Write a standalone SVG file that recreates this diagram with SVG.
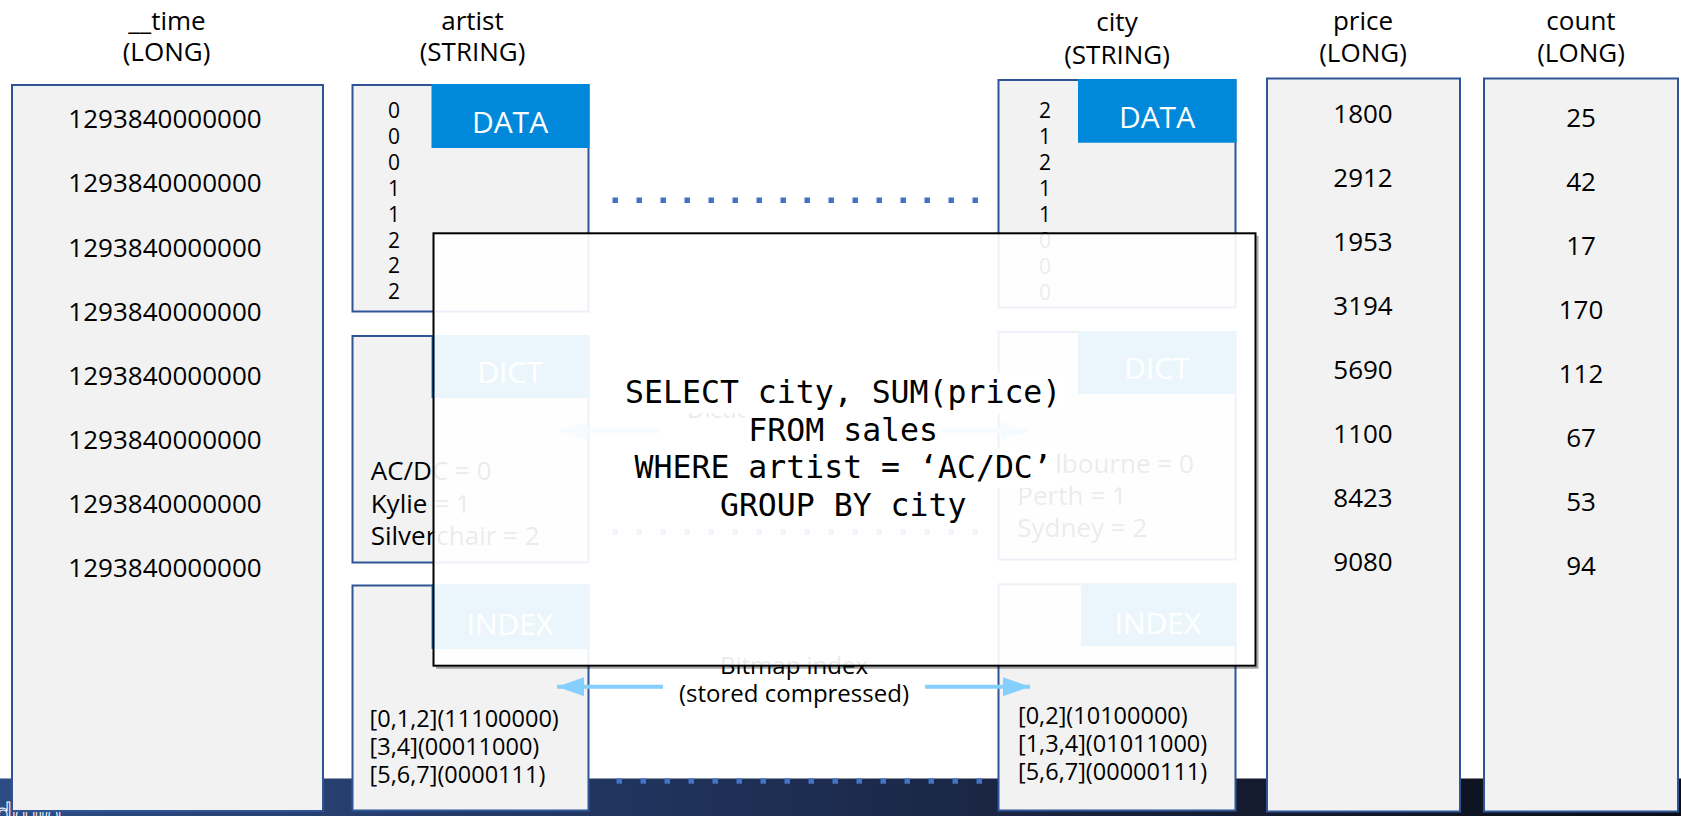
<svg xmlns="http://www.w3.org/2000/svg" width="1681" height="816" viewBox="0 0 1681 816">
  <defs>
    <linearGradient id="band" x1="0" y1="0" x2="1" y2="0">
      <stop offset="0" stop-color="#2C4C84"/>
      <stop offset="0.45" stop-color="#1E2F55"/>
      <stop offset="0.75" stop-color="#141B2E"/>
      <stop offset="1" stop-color="#0B0E17"/>
    </linearGradient>
    <marker id="ah" viewBox="0 0 27 19" refX="27" refY="9.5" markerWidth="27" markerHeight="19" markerUnits="userSpaceOnUse" orient="auto">
      <path d="M0,0 L27,9.5 L0,19 Z" fill="#85CFFF"/>
    </marker>
  </defs>
  <style>
    .box { fill: #F2F2F2; stroke: #2F5597; stroke-width: 2; }
    .hdr { fill: #0089DA; }
    .t { font-family: "Open Sans", "Noto Sans", "DejaVu Sans", sans-serif; fill: #000; }
    .head { font-size: 26px; text-anchor: middle; }
    .val { font-size: 26px; text-anchor: middle; }
    .lab { font-size: 30px; fill: #FFFFFF; text-anchor: middle; }
    .dig { font-size: 21px; text-anchor: middle; }
    .dict { font-size: 26px; }
    .idx { font-size: 23.5px; }
    .note { font-size: 24px; }
    .dots { stroke: #4472C4; stroke-width: 5.5; stroke-dasharray: 5.5 18.5; fill: none; }
    .arr { stroke: #85CFFF; stroke-width: 4; fill: none; marker-end: url(#ah); }
    .sql { font-family: "DejaVu Sans Mono", "Liberation Mono", monospace; font-size: 31.5px; text-anchor: middle; fill: #000; }
  </style>

  <!-- bottom band -->
  <rect x="0" y="778.5" width="1681" height="37.5" fill="url(#band)"/>
  <text x="-5" y="824" font-family="Liberation Sans, sans-serif" font-size="30" fill="none" stroke="#FFFFFF" stroke-width="1">druid</text>

  <!-- headers -->
  <g id="headers" class="t head">
    <text x="167" y="29.5">__time</text>
    <text x="166.5" y="61">(LONG)</text>
    <text x="472.5" y="29.5">artist</text>
    <text x="472.5" y="61">(STRING)</text>
    <text x="1117" y="31">city</text>
    <text x="1117" y="63.5">(STRING)</text>
    <text x="1363" y="30">price</text>
    <text x="1363" y="62">(LONG)</text>
    <text x="1581" y="30">count</text>
    <text x="1581" y="62">(LONG)</text>
  </g>

  <!-- __time column -->
  <g id="time-col">
    <rect class="box" x="12" y="85" width="311" height="726"/>
    <g class="t val">
      <text x="165" y="128.3">1293840000000</text>
      <text x="165" y="192.4">1293840000000</text>
      <text x="165" y="256.5">1293840000000</text>
      <text x="165" y="320.6">1293840000000</text>
      <text x="165" y="384.7">1293840000000</text>
      <text x="165" y="448.8">1293840000000</text>
      <text x="165" y="512.9">1293840000000</text>
      <text x="165" y="577">1293840000000</text>
    </g>
  </g>

  <!-- artist DATA -->
  <g id="artist-data">
    <rect class="box" x="352.5" y="85" width="236" height="226.5"/>
    <rect class="hdr" x="431.5" y="84" width="158" height="64"/>
    <text class="t lab" x="510" y="133">DATA</text>
    <g class="t dig">
      <text x="394" y="118">0</text>
      <text x="394" y="143.9">0</text>
      <text x="394" y="169.8">0</text>
      <text x="394" y="195.7">1</text>
      <text x="394" y="221.6">1</text>
      <text x="394" y="247.5">2</text>
      <text x="394" y="273.4">2</text>
      <text x="394" y="299.3">2</text>
    </g>
  </g>

  <!-- artist DICT -->
  <g id="artist-dict">
    <rect class="box" x="352.5" y="336" width="236" height="226.5"/>
    <rect class="hdr" x="431.5" y="335" width="158" height="63"/>
    <text class="t lab" x="510" y="383.3">DICT</text>
    <g class="t dict">
      <text x="370.7" y="480">AC/DC = 0</text>
      <text x="370.7" y="512.5">Kylie = 1</text>
      <text x="370.7" y="545">Silverchair = 2</text>
    </g>
  </g>

  <!-- artist INDEX -->
  <g id="artist-index">
    <rect class="box" x="352.5" y="585.5" width="236" height="225"/>
    <rect class="hdr" x="431.5" y="584.5" width="158" height="64.5"/>
    <text class="t lab" x="510" y="635">INDEX</text>
    <g class="t idx">
      <text x="369.6" y="726.7">[0,1,2](11100000)</text>
      <text x="369.6" y="755">[3,4](00011000)</text>
      <text x="369.6" y="782.7">[5,6,7](0000111)</text>
    </g>
  </g>

  <!-- city DATA -->
  <g id="city-data">
    <rect class="box" x="998.5" y="80" width="237" height="227.5"/>
    <rect class="hdr" x="1078" y="79" width="158.5" height="63.7"/>
    <text class="t lab" x="1157" y="128.3">DATA</text>
    <g class="t dig">
      <text x="1045" y="118.3">2</text>
      <text x="1045" y="144.2">1</text>
      <text x="1045" y="170.1">2</text>
      <text x="1045" y="196">1</text>
      <text x="1045" y="221.9">1</text>
      <text x="1045" y="247.8">0</text>
      <text x="1045" y="273.7">0</text>
      <text x="1045" y="299.6">0</text>
    </g>
  </g>

  <!-- city DICT -->
  <g id="city-dict">
    <rect class="box" x="998.5" y="332" width="237" height="227.5"/>
    <rect class="hdr" x="1078" y="331" width="158.5" height="63"/>
    <text class="t lab" x="1157" y="379">DICT</text>
    <g class="t dict">
      <text x="1017.3" y="473.3">Melbourne = 0</text>
      <text x="1017.3" y="505">Perth = 1</text>
      <text x="1017.3" y="536.7">Sydney = 2</text>
    </g>
  </g>

  <!-- city INDEX -->
  <g id="city-index">
    <rect class="box" x="998.5" y="584.3" width="237" height="226.2"/>
    <rect class="hdr" x="1081" y="583.3" width="155.5" height="62.7"/>
    <text class="t lab" x="1158" y="634">INDEX</text>
    <g class="t idx">
      <text x="1018" y="724.3">[0,2](10100000)</text>
      <text x="1018" y="751.7">[1,3,4](01011000)</text>
      <text x="1018" y="780">[5,6,7](00000111)</text>
    </g>
  </g>

  <!-- price column -->
  <g id="price-col">
    <rect class="box" x="1267" y="78.5" width="193" height="733"/>
    <g class="t val">
      <text x="1363" y="123.3">1800</text>
      <text x="1363" y="187.3">2912</text>
      <text x="1363" y="251.3">1953</text>
      <text x="1363" y="315.3">3194</text>
      <text x="1363" y="379.3">5690</text>
      <text x="1363" y="443.3">1100</text>
      <text x="1363" y="507.3">8423</text>
      <text x="1363" y="571.3">9080</text>
    </g>
  </g>

  <!-- count column -->
  <g id="count-col">
    <rect class="box" x="1484" y="78.5" width="194" height="733"/>
    <g class="t val">
      <text x="1581" y="126.7">25</text>
      <text x="1581" y="190.7">42</text>
      <text x="1581" y="254.7">17</text>
      <text x="1581" y="318.7">170</text>
      <text x="1581" y="382.7">112</text>
      <text x="1581" y="446.7">67</text>
      <text x="1581" y="510.7">53</text>
      <text x="1581" y="574.7">94</text>
    </g>
  </g>

  <!-- connectors -->
  <g id="connectors">
    <line class="dots" x1="612.5" y1="200.3" x2="978" y2="200.3"/>
    <line class="dots" x1="612.5" y1="531.7" x2="978" y2="531.7"/>
    <line class="dots" x1="616.5" y1="781" x2="982" y2="781"/>
    <line class="arr" x1="662" y1="430.7" x2="560" y2="430.7"/>
    <line class="arr" x1="940" y1="430.7" x2="1028" y2="430.7"/>
    <line class="arr" x1="663" y1="686.7" x2="557" y2="686.7"/>
    <line class="arr" x1="925" y1="686.7" x2="1030" y2="686.7"/>
    <text class="t note" x="687" y="418">Dictionary</text>
    <text class="t note" x="794" y="674" text-anchor="middle">Bitmap index</text>
    <text class="t note" x="794" y="701.7" text-anchor="middle">(stored compressed)</text>
  </g>

  <!-- query overlay -->
  <g id="query">
    <path d="M1257.5,236 V667.7 H436" fill="none" stroke="#000" stroke-opacity="0.35" stroke-width="2"/>
    <rect x="433.5" y="233.3" width="822" height="432.4" fill="#FFFFFF" fill-opacity="0.92" stroke="#000" stroke-width="2"/>
    <g fill="#FFFFFF">
      <rect x="621" y="373" width="445" height="40"/>
      <rect x="745" y="410.5" width="197" height="40"/>
      <rect x="630" y="448" width="427" height="40"/>
      <rect x="716" y="485.5" width="255" height="40"/>
    </g>
    <text class="sql" x="843.2" y="403">SELECT city, SUM(price)</text>
    <text class="sql" x="843.2" y="440.5">FROM sales</text>
    <text class="sql" x="843.2" y="478">WHERE artist = ‘AC/DC’</text>
    <text class="sql" x="843.2" y="515.5">GROUP BY city</text>
  </g>
</svg>
